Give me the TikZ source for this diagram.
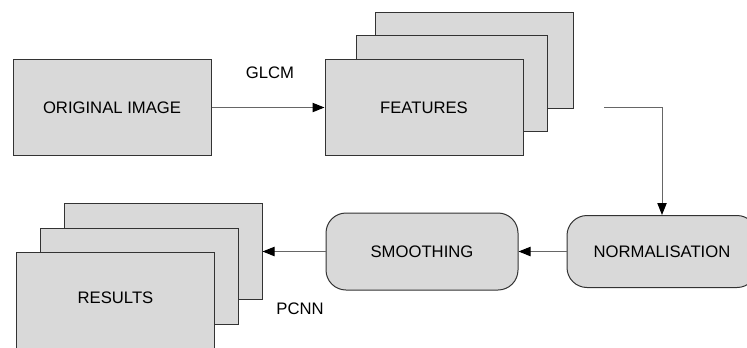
\documentclass[tikz,border=0pt]{standalone}
\usepackage{fontspec}
\setmainfont{Liberation Sans}
\usetikzlibrary{positioning,arrows.meta}

\definecolor{boxfill}{HTML}{D9D9D9}
\definecolor{boxline}{HTML}{333333}
\definecolor{wire}{HTML}{666666}

\tikzset{
  box/.style={draw=boxline, fill=boxfill, line width=0.75pt,
    minimum width=148.5pt, minimum height=72pt, inner sep=0pt,
    font=\fontsize{12.5}{15}\selectfont},
  roundbox/.style={box, rounded corners=15pt, minimum height=54pt},
  conn/.style={draw=wire, line width=0.75pt,
    -{Triangle[length=9pt,width=7pt,color=black]}},
  lbl/.style={font=\fontsize{12.5}{15}\selectfont, inner sep=0pt}
}

\begin{document}
\begin{tikzpicture}[x=0.75pt,y=-0.75pt]
\useasboundingbox (0,0) rectangle (747,347);
\clip (0,0) rectangle (747,347);

\node[box](orig) at (112,107.5) {ORIGINAL IMAGE};
\node[box](feat3) at (474,60) {};
\node[box, minimum width=143.25pt](feat2) at (451.5,83.5) {};
\node[box, right=84.75pt of orig](feat) {FEATURES};
\node[lbl](glcm) at (270,73) {GLCM};

\node[roundbox, minimum width=142.5pt](norm) at (662,251.5) {NORMALISATION};
\node[roundbox, minimum width=144pt, minimum height=57.75pt, left=36pt of norm](smooth) {SMOOTHING};

\node[box](res3) at (163,251) {};
\node[box](res2) at (139.5,276) {};
\node[box](res) at (115.5,300) {};
\node[lbl](pcnn) at (300,309) {PCNN};
\node[lbl] at (115.5,298) {RESULTS};

\coordinate(bend) at (604,107.5);

\draw[conn](orig)--(feat);
\draw[conn](bend)-|(norm.north);
\draw[conn](norm)--(smooth);
\draw[conn](smooth.west)--(smooth.west -| res3.east);
\end{tikzpicture}
\end{document}
